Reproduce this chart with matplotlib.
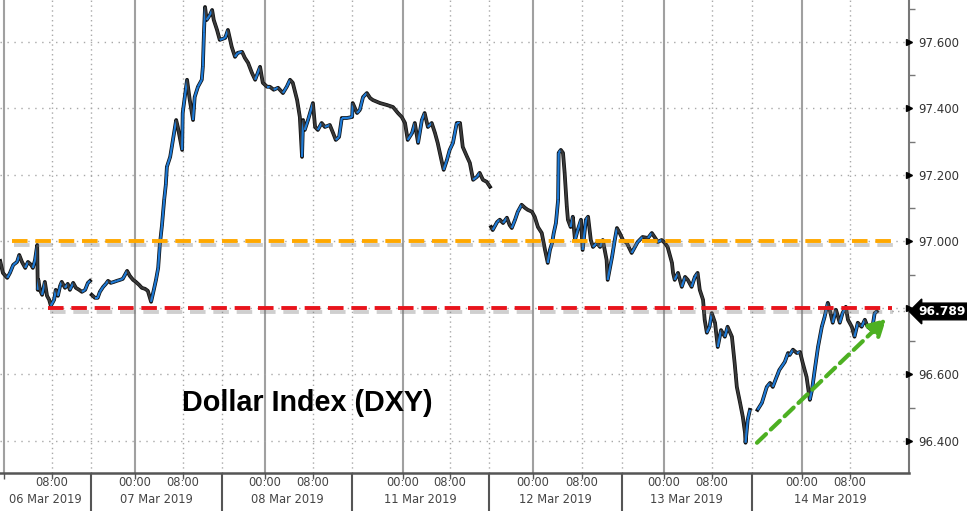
import numpy as np
import matplotlib.pyplot as plt
import matplotlib.patheffects as pe
from matplotlib.collections import LineCollection
from matplotlib.transforms import blended_transform_factory

# Ось времени: торговые часы от 06 Mar 00:00 (выходные выкинуты)
# 06 Mar, до дневного перерыва
t_a = [-0.7, -0.2, 0.6, 1.1, 1.7, 2.4, 2.8, 3.3, 3.9, 4.4, 5.0, 5.3, 5.7, 6.1, 6.2, 6.3,
       6.6, 7.0, 7.5, 7.9, 8.3, 8.6, 9.2, 9.5, 9.9, 10.3, 10.6, 11.2, 11.7, 12.1, 12.7,
       13.2, 13.8, 14.3, 14.9, 15.4, 15.8]
v_a = [96.941, 96.905, 96.890, 96.905, 96.929, 96.938, 96.959, 96.938, 96.920, 96.938,
       96.929, 96.920, 96.944, 96.989, 96.854, 96.884, 96.854, 96.839, 96.878, 96.836,
       96.824, 96.806, 96.824, 96.854, 96.836, 96.866, 96.878, 96.860, 96.872, 96.854,
       96.875, 96.860, 96.854, 96.848, 96.854, 96.875, 96.881]

# 06 Mar вечер -> 11 Mar
t_b = [16.1, 16.7, 17.2, 17.6, 18.2, 18.7, 19.1, 19.6, 20.2, 20.7, 21.3, 21.8, 22.6, 23.1,
       23.7, 24.2, 24.8, 25.3, 25.9, 26.4, 27.0, 27.5, 27.9, 28.3, 28.6, 29.0, 29.4, 29.7,
       29.9, 30.5, 30.8, 31.6, 31.9, 32.7, 32.8, 33.6, 34.1, 34.7, 35.0, 35.6, 36.3, 36.5,
       36.7, 36.9, 37.2, 37.8, 38.2, 38.5, 39.1, 39.6, 40.6, 41.1, 41.8, 42.4, 42.9, 43.7,
       44.2, 44.8, 45.5, 46.1, 47.0, 47.5, 48.3, 48.8, 49.5, 50.3, 51.2, 51.9, 52.5, 53.0,
       53.8, 54.3, 54.7, 54.9, 55.2, 55.8, 56.7, 57.1, 57.6, 58.3, 58.9, 59.8, 60.4, 60.9,
       61.5, 62.0, 62.9, 63.9, 64.0, 64.8, 65.3, 65.9, 66.6, 67.2, 67.7, 69.0, 70.3, 71.4,
       72.3, 73.0, 73.6, 74.1, 74.9, 75.4, 76.0, 76.7, 77.2, 77.8, 78.5, 79.1, 79.6, 80.4,
       80.7, 81.3, 81.8, 82.4, 83.1, 83.7, 84.2, 85.0, 85.5, 86.1, 86.8, 87.3, 87.9, 88.6,
       89.2]
v_b = [96.839, 96.830, 96.830, 96.848, 96.863, 96.872, 96.881, 96.875, 96.878, 96.881,
       96.884, 96.887, 96.911, 96.896, 96.884, 96.878, 96.869, 96.860, 96.857, 96.851,
       96.818, 96.854, 96.884, 96.920, 96.989, 97.049, 97.125, 97.170, 97.224, 97.254,
       97.284, 97.365, 97.344, 97.275, 97.386, 97.486, 97.425, 97.365, 97.434, 97.465,
       97.486, 97.525, 97.627, 97.705, 97.666, 97.681, 97.696, 97.666, 97.636, 97.606,
       97.612, 97.636, 97.585, 97.555, 97.567, 97.570, 97.552, 97.537, 97.507, 97.486,
       97.525, 97.477, 97.465, 97.465, 97.456, 97.462, 97.446, 97.465, 97.486, 97.477,
       97.425, 97.374, 97.254, 97.365, 97.335, 97.365, 97.416, 97.344, 97.335, 97.356,
       97.344, 97.350, 97.326, 97.305, 97.314, 97.371, 97.371, 97.374, 97.416, 97.386,
       97.395, 97.434, 97.446, 97.431, 97.425, 97.416, 97.410, 97.404, 97.386, 97.374,
       97.356, 97.305, 97.326, 97.356, 97.296, 97.365, 97.386, 97.344, 97.356, 97.326,
       97.296, 97.236, 97.215, 97.245, 97.275, 97.296, 97.356, 97.356, 97.284, 97.254,
       97.236, 97.185, 97.194, 97.206, 97.185, 97.179, 97.164]

# 11 Mar вечер -> 13 Mar
t_c = [89.4, 89.7, 90.5, 91.0, 91.6, 92.3, 92.8, 93.2, 93.8, 94.3, 95.0, 95.6, 96.1, 96.9,
       97.4, 98.0, 98.7, 99.3, 99.8, 100.2, 100.6, 100.9, 101.3, 101.7, 101.8, 102.2, 102.6,
       102.9, 103.3, 103.5, 104.0, 104.4, 104.8, 105.3, 105.9, 106.2, 106.8, 107.2, 107.7,
       108.1, 108.8, 109.4, 109.9, 110.6, 110.8, 111.6, 112.1, 112.5, 113.0, 113.6, 114.3,
       115.2, 115.8, 116.3, 117.2, 118.2, 118.9, 119.4, 120.0, 120.7, 121.3, 121.8, 122.6,
       122.8, 123.1, 123.7, 124.4, 125.0, 125.5, 126.2, 126.8, 127.3, 127.7, 128.3, 128.6,
       129.0, 129.5, 129.9, 130.5, 131.0, 131.6, 132.3, 132.8, 133.6, 134.1, 134.5, 135.1,
       135.6, 136.0, 136.1, 136.5, 136.9]
v_c = [97.043, 97.034, 97.058, 97.065, 97.055, 97.071, 97.049, 97.040, 97.065, 97.089,
       97.110, 97.101, 97.095, 97.089, 97.074, 97.043, 97.025, 96.974, 96.935, 96.974,
       96.995, 97.025, 97.055, 97.125, 97.266, 97.275, 97.266, 97.206, 97.104, 97.065,
       97.043, 97.074, 97.004, 97.034, 97.065, 96.974, 97.065, 97.074, 97.004, 96.983,
       96.995, 96.983, 97.004, 96.944, 96.884, 96.953, 97.004, 97.040, 97.025, 97.004,
       96.995, 96.965, 96.983, 96.998, 97.013, 97.010, 97.025, 97.013, 96.998, 97.004,
       96.995, 96.983, 96.935, 96.905, 96.884, 96.905, 96.863, 96.893, 96.884, 96.863,
       96.893, 96.905, 96.854, 96.824, 96.764, 96.725, 96.743, 96.784, 96.755, 96.682,
       96.733, 96.713, 96.743, 96.713, 96.634, 96.562, 96.514, 96.472, 96.424, 96.394,
       96.463, 96.493]

# 13 Mar вечер -> 14 Mar
t_d = [138.3, 139.1, 140.0, 140.6, 141.1, 141.8, 142.3, 143.3, 143.9, 144.2, 144.8, 145.5,
       146.1, 146.6, 147.3, 147.9, 148.3, 148.8, 149.4, 150.1, 150.6, 151.2, 151.7, 152.1,
       152.7, 153.4, 153.9, 154.5, 154.9, 155.6, 156.1, 156.7, 157.4, 158.0, 158.5, 159.3,
       159.8, 160.2]
v_d = [96.493, 96.514, 96.562, 96.574, 96.562, 96.592, 96.613, 96.637, 96.664, 96.658,
       96.674, 96.664, 96.667, 96.634, 96.592, 96.523, 96.553, 96.613, 96.682, 96.743,
       96.772, 96.815, 96.784, 96.755, 96.794, 96.755, 96.784, 96.803, 96.764, 96.743,
       96.713, 96.755, 96.743, 96.764, 96.743, 96.733, 96.784, 96.789]

# Разметка оси X
day_open = [0.0, 24.0, 47.9, 73.2, 97.1, 121.1, 146.4]      # 00:00
morning = [8.8, 32.8, 56.7, 81.8, 106.1, 129.9, 155.2]      # 08:00
day_break = [16.0, 40.0, 63.9, 89.0, 113.4, 137.2]          # разделители дат
day_names = ['06 Mar 2019', '07 Mar 2019', '08 Mar 2019', '11 Mar 2019',
             '12 Mar 2019', '13 Mar 2019', '14 Mar 2019']

y_major = [96.4, 96.6, 96.8, 97.0, 97.2, 97.4, 97.6]
y_minor = [96.5, 96.7, 96.9, 97.1, 97.3, 97.5, 97.7]

last_price = 96.789
resistance = 97.000   # оранжевая
support = 96.800      # красная
trend_start = (138.2, 96.394)
trend_end = (161.9, 96.767)

x_min, x_max = -0.73, 166.1
y_min, y_max = 96.303, 97.726

blue = '#1e7ad6'
black = '#111111'

fig = plt.figure(figsize=(9.67, 5.11), dpi=100)
ax = fig.add_axes([0.0, 38 / 511, 909 / 967, 473 / 511])
ax.set_xlim(x_min, x_max)
ax.set_ylim(y_min, y_max)

# Сетка
for x in day_open:
    ax.axvline(x, color='#a0a0a0', lw=1.5, zorder=1)
for x in morning + day_break:
    ax.axvline(x, color='#a8a8a8', lw=1.0, ls=(0, (1, 2.5)), zorder=1)
for y in y_major:
    ax.axhline(y, color='#a8a8a8', lw=1.0, ls=(0, (1, 4)), zorder=1)


def draw_price(t, v):
    t = np.array(t)
    v = np.array(v)
    pts = np.column_stack([t, v]).reshape(-1, 1, 2)
    segs = np.concatenate([pts[:-1], pts[1:]], axis=1)
    cols = [blue if d >= 0 else '#3a3a3a' for d in np.diff(v)]
    ax.plot(t, v, color=black, lw=2.7, zorder=3)
    ax.add_collection(LineCollection(segs, colors=cols, linewidths=1.6, zorder=4))


for t, v in [(t_a, v_a), (t_b, v_b), (t_c, v_c), (t_d, v_d)]:
    draw_price(t, v)

# Уровни
shadow = [pe.SimpleLineShadow(offset=(1, -3), shadow_color='#777777', alpha=0.35),
          pe.Normal()]
ax.plot([1.5, 163.9], [resistance, resistance], color='#ffa800', lw=2.8,
        ls=(0, (4, 2)), zorder=5, path_effects=shadow)
ax.plot([8.1, 162.9], [support, support], color='#e8141c', lw=2.8,
        ls=(0, (4, 2)), zorder=5, path_effects=shadow)
ax.plot([162.9, x_max], [last_price, last_price], color='#a8a8a8', lw=1.0,
        ls=(0, (1, 3)), zorder=2)

# Тренд
ax.annotate('', xy=trend_end, xytext=trend_start,
            arrowprops=dict(arrowstyle='-|>,head_length=1.0,head_width=0.55',
                            color='#4db022', lw=3, ls=(0, (3, 1.6)),
                            shrinkA=0, shrinkB=0),
            zorder=6)

ax.text(0.2, 0.148, 'Dollar Index (DXY)', transform=ax.transAxes,
        fontsize=20.7, fontweight='bold', family='Liberation Sans',
        ha='left', va='center', color='black')

# Оси
for s in ['top', 'left']:
    ax.spines[s].set_visible(False)
ax.spines['bottom'].set_color('#555555')
ax.spines['bottom'].set_linewidth(1.8)
ax.spines['right'].set_color('#777777')
ax.spines['right'].set_linewidth(1.5)

ax.yaxis.tick_right()
ax.set_yticks(y_major)
ax.set_yticks(y_minor, minor=True)
# подпись 96.800 закрыта ярлыком последней цены
ax.set_yticklabels(['' if abs(y - last_price) < 0.05 else '%.3f' % y for y in y_major])
ax.tick_params(axis='y', which='major', length=0, pad=6.5, labelsize=8.5,
               labelcolor='#333333')
ax.tick_params(axis='y', which='minor', length=4, color='#777777', width=1)
tr_y = blended_transform_factory(ax.transAxes, ax.transData)
ax.plot([1.0] * len(y_major), y_major, marker='>', ms=5, color='black', ls='none',
        transform=tr_y, clip_on=False, zorder=7)

# Последняя цена
ax.text(1.01, last_price, '%.3f' % last_price, transform=tr_y, fontsize=8.8,
        fontweight='bold', color='white', ha='left', va='center',
        bbox=dict(boxstyle='larrow,pad=0.15', fc='black', ec='black'))

# Подписи по X
ax.set_xticks(day_break)
ax.set_xticklabels([])
ax.tick_params(axis='x', which='major', length=36, color='#555555', width=1.5)
ax.set_xticks(day_open + morning, minor=True)
ax.tick_params(axis='x', which='minor', length=4, color='#555555', width=1)

tr_x = blended_transform_factory(ax.transData, ax.transAxes)
for x in day_open[1:]:
    ax.annotate('00:00', (x, 0), xycoords=tr_x, xytext=(0, -7), textcoords='offset points',
                ha='center', va='center', fontsize=8.3, color='#444444')
for x in morning:
    ax.annotate('08:00', (x, 0), xycoords=tr_x, xytext=(0, -7), textcoords='offset points',
                ha='center', va='center', fontsize=8.3, color='#444444')
edges = [x_min] + day_break + [x_max]
for i, name in enumerate(day_names):
    xc = (edges[i] + edges[i + 1]) / 2
    ax.annotate(name, (xc, 0), xycoords=tr_x, xytext=(0, -19), textcoords='offset points',
                ha='center', va='center', fontsize=8.3, color='#444444')

fig.savefig('out.png', dpi=100)
